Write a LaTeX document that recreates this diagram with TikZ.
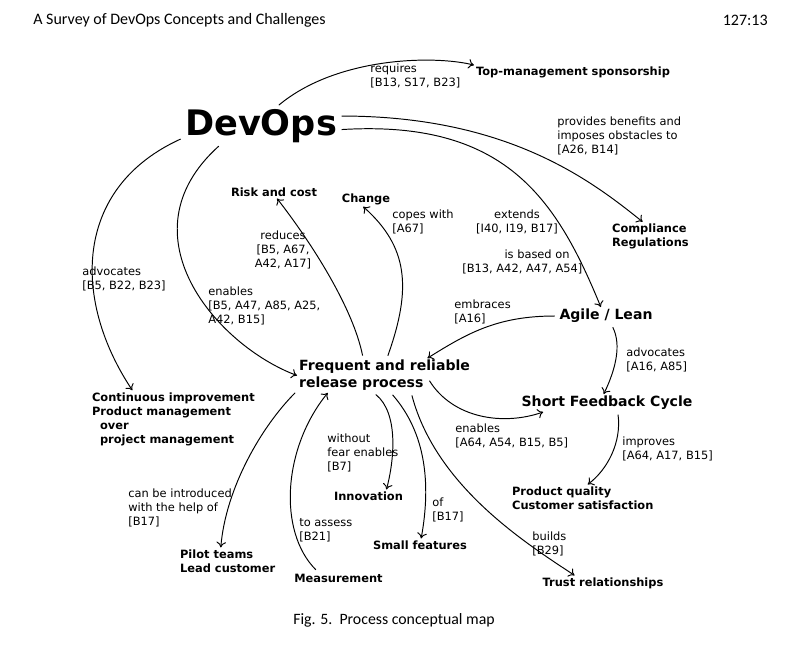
\documentclass[tikz,border=0pt]{standalone}
\usepackage{fontspec}
\setmainfont{DejaVu Sans}
\newfontfamily\headfont{Carlito}
\usetikzlibrary{arrows.meta}

\tikzset{
  concept/.style={font=\bfseries\fontsize{6.5}{8}\selectfont,align=left,inner sep=1pt},
  bigconcept/.style={font=\bfseries\fontsize{8}{9.6}\selectfont,align=left,inner sep=1pt},
  lbl/.style={font=\fontsize{6.5}{8}\selectfont,align=left,inner sep=0pt},
  link/.style={-{To[length=3.2pt,width=5.5pt]},line width=0.55pt,shorten <=1.5pt},
}

\begin{document}
\begin{tikzpicture}[x=0.02cm,y=-0.02cm]
\useasboundingbox (0,0) rectangle (800,650);
% running head and caption
\node[font=\headfont\fontsize{9.1}{11}\selectfont,anchor=west,inner sep=0pt] (head) at (33,20) {A Survey of DevOps Concepts and Challenges};
\node[font=\headfont\fontsize{9.1}{11}\selectfont,anchor=east,inner sep=0pt] (page) at (768,20) {127:13};
\node[font=\headfont\fontsize{9}{11}\selectfont,inner sep=0pt] (caption) at (394,620) {Fig. 5.\ \ Process conceptual map};

% concepts
\node[font=\bfseries\fontsize{20}{24}\selectfont,inner sep=1pt,anchor=base] (devops) at (261,135) {DevOps};
\node[concept,anchor=west] (top) at (474,72) {Top-management sponsorship};
\node[concept,anchor=west] (comp) at (610,236.5) {Compliance\\Regulations};
\node[concept] (risk) at (274,192) {Risk and cost};
\node[concept] (change) at (366,199) {Change};
\node[bigconcept] (agile) at (606,316) {Agile / Lean};
\node[bigconcept,anchor=west] (freq) at (297,375.5) {Frequent and reliable\\release process};
\node[bigconcept] (short) at (607,403) {Short Feedback Cycle};
\node[concept,anchor=west] (prod) at (510,498) {Product quality\\Customer satisfaction};
\node[concept,anchor=west] (cont) at (90,419) {Continuous improvement\\Product management\\\hspace*{4.5pt}over\\\hspace*{4.5pt}project management};
\node[concept] (innov) at (368.5,496) {Innovation};
\node[concept] (small) at (420,545) {Small features};
\node[concept,anchor=west] (pilot) at (178,561) {Pilot teams\\Lead customer};
\node[concept] (meas) at (338.5,578) {Measurement};
\node[concept] (trust) at (603,583) {Trust relationships};

% relation labels
\node[lbl,anchor=north west] (lreq) at (370,63) {requires\\{[B13, S17, B23]}};
\node[lbl,anchor=north west] (lprov) at (557,116) {provides benefits and\\imposes obstacles to\\{[A26, B14]}};
\node[lbl,anchor=north west] (lcopes) at (392,209) {copes with\\{[A67]}};
\node[lbl,anchor=north,align=center] (lext) at (517,209) {extends\\{[I40, I19, B17]}};
\node[lbl,anchor=north west] (lbased) at (462,249) {\hspace*{24pt}is based on\\{[B13, A42, A47, A54]}};
\node[lbl,anchor=north,align=center] (lred) at (283,230) {reduces\\{[B5, A67,}\\A42, A17]};
\node[lbl,anchor=north west] (lenab) at (208,286) {enables\\{[B5, A47, A85, A25,}\\A42, B15]};
\node[lbl,anchor=north west] (ladv) at (82,266) {advocates\\{[B5, B22, B23]}};
\node[lbl,anchor=north west] (lembr) at (454,299) {embraces\\{[A16]}};
\node[lbl,anchor=north west] (ladvag) at (626,347) {advocates\\{[A16, A85]}};
\node[lbl,anchor=north west] (lenabsh) at (455,423) {enables\\{[A64, A54, B15, B5]}};
\node[lbl,anchor=north west] (limpr) at (622,436) {improves\\{[A64, A17, B15]}};
\node[lbl,anchor=north west] (lintro) at (128,488) {can be introduced\\with the help of\\{[B17]}};
\node[lbl,anchor=north west] (lfear) at (327,433) {without\\fear enables\\{[B7]}};
\node[lbl,anchor=north west] (lof) at (432,497) {of\\{[B17]}};
\node[lbl,anchor=north west] (lassess) at (299,518) {to assess\\{[B21]}};
\node[lbl,anchor=north west] (lbuilds) at (532,531) {builds\\{[B29]}};

% relations
\foreach \a/\ax/\ay/\bx/\by/\b in {
  devops.50/60/-50/-40/-10/top.176,
  devops.7/170/0/-50/-40/comp.118,
  devops.-3/165/-10/-45/-110/agile.120,
  devops.189/-110/50/-60/-90/cont.145,
  devops.205/-100/90/-80/-30/freq.180,
  freq.141/-10/-50/35/45/risk.-65,
  freq.82/25/-70/45/40/change.250,
  agile.180/-60/0/40/-25/freq.22,
  agile.-58/10/20/12/-25/short.110,
  short.-40/4/30/20/-15/prod.70,
  freq.190/-35/35/5/-60/pilot.117,
  meas.163/-40/-40/-45/55/freq.197,
  freq.238/25/20/8/-30/innov.20,
  freq.290/35/40/10/-55/small.80,
  freq.327/25/95/-45/-30/trust.165}
  \draw[link] (\a) .. controls +(\ax,\ay) and +(\bx,\by) .. (\b);
\draw[link] ([shift={(-44,3)}]freq.east) .. controls +(25,40) and +(-40,14) .. (short.188);
\end{tikzpicture}
\end{document}
